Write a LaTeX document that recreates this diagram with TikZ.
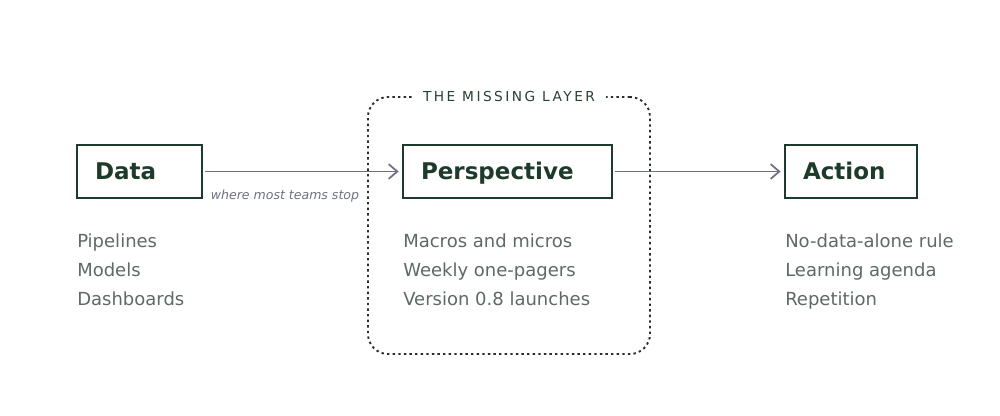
\documentclass[tikz,border=0pt]{standalone}
\usepackage{fontspec}
\setmainfont{DejaVu Sans}
\newfontfamily\spacedfont[LetterSpace=18]{DejaVu Sans}
\usepackage{tikz}
\usetikzlibrary{
  arrows.meta,
  positioning
}
\definecolor{boxcolor}{RGB}{30, 58, 42}
\definecolor{itemcolor}{RGB}{93, 107, 100}
\definecolor{arrowcolor}{RGB}{110, 113, 129}
\definecolor{framecolor}{RGB}{40, 46, 44}
\definecolor{layercolor}{RGB}{40, 66, 52}
\tikzset{
stagebox/.style={
  draw=boxcolor,
  line width=1.5pt,
  anchor=west,
  minimum height=39.75pt,
  inner xsep=13.5pt,
  text width=#1,
  text height=12.6pt,
  text depth=0pt,
  align=left,
  font=\fontsize{17.25}{20}\selectfont\bfseries,
  text=boxcolor
},
itemlabel/.style={
  anchor=base west,
  inner sep=0pt,
  font=\fontsize{13.5}{16}\selectfont,
  text=itemcolor
},
notelabel/.style={
  font=\fontsize{9.4}{11}\selectfont\itshape,
  text=arrowcolor
},
layerframe/.style={
  draw=framecolor,
  line width=1.4pt,
  dash pattern=on 1.8pt off 2.4pt,
  rounded corners=15pt
},
layerlabel/.style={
  fill=white,
  inner xsep=8pt,
  font=\fontsize{10.3}{12}\spacedfont,
  text=layercolor
},
arrow/.style={
  -{Straight Barb[length=6.5pt,width=11pt,line width=1.3pt]},
  line width=1.3pt,
  draw=arrowcolor,
  shorten >=2.5pt,
  shorten <=1.5pt
}
}
\begin{document}
\begin{tikzpicture}[x=0.75pt, y=-0.75pt]
  \useasboundingbox[fill=white] (0,0) rectangle (1000,416);
  % The missing layer
  \node[layerframe, minimum width=211.5pt, minimum height=192.75pt] (layer) at (509,225.5) {};
  \node[layerlabel] (layertitle) at (layer.north) {THE MISSING LAYER};
  % Stages
  \node[stagebox=66.75pt] (data) at (76,171.5) {Data};
  \node[stagebox=129.75pt] (persp) at (402,171.5) {Perspective};
  \node[stagebox=72pt] (action) at (784,171.5) {Action};
  % Arrows
  \draw[arrow] (data) -- (persp);
  \draw[arrow] (persp) -- (action);
  \node[notelabel] (stop) at (285,196) {where most teams stop};
  % Items
  \node[itemlabel] (data1) at (77,248) {Pipelines};
  \node[itemlabel] (data2) at (77,277) {Models};
  \node[itemlabel] (data3) at (77,306) {Dashboards};
  \node[itemlabel] (persp1) at (403,248) {Macros and micros};
  \node[itemlabel] (persp2) at (403,277) {Weekly one-pagers};
  \node[itemlabel] (persp3) at (403,306) {Version 0.8 launches};
  \node[itemlabel] (action1) at (785,248) {No-data-alone rule};
  \node[itemlabel] (action2) at (785,277) {Learning agenda};
  \node[itemlabel] (action3) at (785,306) {Repetition};
\end{tikzpicture}
\end{document}
